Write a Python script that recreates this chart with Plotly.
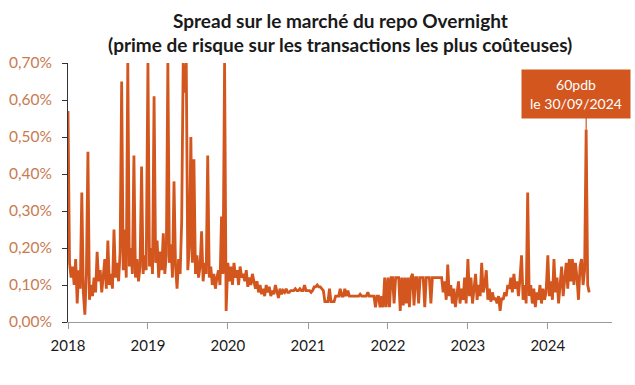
import numpy as np
import pandas as pd
import plotly.graph_objects as go

# Weekly spread values (in %), one list per year
v2018 = [0.57, 0.16, 0.12, 0.15, 0.10, 0.17, 0.05, 0.14, 0.09, 0.35,
         0.08, 0.02, 0.13, 0.46, 0.06, 0.10, 0.07, 0.12, 0.08, 0.19,
         0.11, 0.14, 0.08, 0.12, 0.17, 0.09, 0.22, 0.10, 0.13, 0.09,
         0.25, 0.12, 0.16, 0.11, 0.19, 0.65, 0.14, 0.25, 0.12, 0.70,
         0.15, 0.20, 0.13, 0.45, 0.12, 0.17, 0.11, 0.15, 0.42, 0.13,
         0.18, 0.14]
v2019 = [0.70, 0.15, 0.20, 0.13, 0.61, 0.16, 0.22, 0.12, 0.19, 0.14,
         0.24, 0.13, 0.18, 0.70, 0.16, 0.21, 0.12, 0.38, 0.15, 0.09,
         0.17, 0.13, 0.27, 0.70, 0.62, 0.70, 0.14, 0.20, 0.50, 0.16,
         0.44, 0.13, 0.18, 0.12, 0.15, 0.245, 0.11, 0.16, 0.13, 0.45,
         0.12, 0.15, 0.10, 0.13, 0.09, 0.12, 0.14, 0.10, 0.285, 0.13,
         0.70, 0.03]
v2020 = [0.16, 0.11, 0.15, 0.10, 0.16, 0.12, 0.14, 0.10, 0.15, 0.12,
         0.13, 0.11, 0.14, 0.095, 0.12, 0.10, 0.13, 0.11, 0.09, 0.11,
         0.08, 0.10, 0.075, 0.09, 0.07, 0.10, 0.08, 0.095, 0.07, 0.085,
         0.075, 0.10, 0.08, 0.065, 0.09, 0.075, 0.085, 0.08, 0.09, 0.08,
         0.08, 0.085, 0.085, 0.085, 0.09, 0.085, 0.085, 0.09, 0.085, 0.085,
         0.10, 0.085]
v2021 = [0.085, 0.085, 0.08, 0.085, 0.095, 0.095, 0.10, 0.095, 0.095, 0.09,
         0.085, 0.055, 0.055, 0.055, 0.09, 0.055, 0.055, 0.055, 0.07, 0.07,
         0.07, 0.09, 0.07, 0.07, 0.09, 0.07, 0.085, 0.07, 0.07, 0.07,
         0.07, 0.07, 0.07, 0.07, 0.075, 0.07, 0.07, 0.07, 0.07, 0.08,
         0.07, 0.07, 0.07, 0.07, 0.04, 0.07, 0.07, 0.04, 0.07, 0.04,
         0.12, 0.04]
v2022 = [0.12, 0.04, 0.12, 0.12, 0.05, 0.12, 0.12, 0.12, 0.03, 0.12,
         0.045, 0.12, 0.05, 0.12, 0.04, 0.12, 0.13, 0.045, 0.12, 0.12,
         0.05, 0.12, 0.12, 0.12, 0.04, 0.12, 0.12, 0.12, 0.05, 0.12,
         0.12, 0.12, 0.12, 0.12, 0.12, 0.12, 0.08, 0.11, 0.06, 0.155,
         0.07, 0.10, 0.05, 0.09, 0.04, 0.08, 0.11, 0.05, 0.09, 0.06,
         0.12, 0.05]
v2023 = [0.17, 0.07, 0.12, 0.05, 0.10, 0.13, 0.06, 0.10, 0.07, 0.16,
         0.08, 0.10, 0.14, 0.06, 0.09, 0.055, 0.08, 0.06, 0.065, 0.05,
         0.07, 0.03, 0.065, 0.06, 0.08, 0.07, 0.10, 0.09, 0.12, 0.08,
         0.13, 0.09, 0.11, 0.07, 0.12, 0.18, 0.06, 0.10, 0.05, 0.35,
         0.07, 0.10, 0.05, 0.09, 0.04, 0.08, 0.06, 0.10, 0.05, 0.09,
         0.06, 0.08]
v2024 = [0.18, 0.07, 0.11, 0.06, 0.17, 0.08, 0.12, 0.05, 0.10, 0.15,
         0.07, 0.12, 0.16, 0.09, 0.17, 0.11, 0.17, 0.10, 0.16, 0.12,
         0.06, 0.15, 0.17, 0.10, 0.14, 0.52, 0.10, 0.08]

years = [2018, 2019, 2020, 2021, 2022, 2023, 2024]
series = [v2018, v2019, v2020, v2021, v2022, v2023, v2024]

y_tickvals = [0, 0.1, 0.2, 0.3, 0.4, 0.5, 0.6, 0.7]
y_ticktext = ["0,00%", "0,10%", "0,20%", "0,30%", "0,40%", "0,50%", "0,60%", "0,70%"]
x_tickvals = [f"{y}-01-01" for y in years]
x_ticktext = [str(y) for y in years]

title_line1 = "Spread sur le marché du repo Overnight"
title_line2 = "(prime de risque sur les transactions les plus coûteuses)"
annot_text = "60pdb<br>le 30/09/2024"

dates, vals = [], []
for yr, v in zip(years, series):
    d = pd.Timestamp(f"{yr}-01-01") + pd.to_timedelta(7 * np.arange(len(v)), unit="D")
    dates.extend(list(d))
    vals.extend(v)

spike_idx = int(np.argmax(v2024))
spike_date = dates[len(dates) - len(v2024) + spike_idx]
spike_val = v2024[spike_idx]

LINE = "#D2561E"
FONT = "Lato"

fig = go.Figure()
fig.add_trace(go.Scatter(x=dates, y=vals, mode="lines",
                         line=dict(color=LINE, width=2.8), hoverinfo="skip",
                         showlegend=False))

fig.add_shape(type="line", xref="x", yref="y",
              x0=spike_date, x1=spike_date, y0=spike_val, y1=0.56,
              line=dict(color=LINE, width=1.2))

fig.add_annotation(text=annot_text, xref="paper", yref="paper",
                   x=0.934, y=0.880, xanchor="center", yanchor="middle",
                   showarrow=False,
                   font=dict(family=FONT, size=14, color="white"),
                   bgcolor=LINE, width=102, height=42, borderpad=3,
                   align="center")

for txt, ypos in [(title_line1, 1.166), (title_line2, 1.073)]:
    fig.add_annotation(text=txt, xref="paper", yref="paper",
                       x=0.5, y=ypos, xanchor="center", yanchor="middle",
                       showarrow=False,
                       font=dict(family=FONT, size=19, color="#1a1a1a", weight="bold"))

fig.update_layout(
    width=635, height=385,
    margin=dict(l=68, r=23, t=63, b=63),
    paper_bgcolor="white", plot_bgcolor="white",
    font=dict(family=FONT),
)
fig.update_xaxes(type="date", range=["2018-01-01", "2024-10-20"],
                 tickvals=x_tickvals, ticktext=x_ticktext,
                 showgrid=False, zeroline=False, automargin=False,
                 showline=True, linecolor="#9a9a9a", linewidth=1,
                 ticks="outside", ticklen=6, tickcolor="#9a9a9a",
                 ticklabelstandoff=4,
                 tickfont=dict(family=FONT, size=15, color="#1a1a1a"))
fig.update_yaxes(range=[0, 0.70], tickvals=y_tickvals, ticktext=y_ticktext,
                 showgrid=False, zeroline=False, automargin=False,
                 showline=True, linecolor="#333333", linewidth=1,
                 ticks="outside", ticklen=5, tickcolor="#333333",
                 ticklabelstandoff=7,
                 tickfont=dict(family=FONT, size=15.5, color="#C97A50"))

fig.write_html("out.html")
